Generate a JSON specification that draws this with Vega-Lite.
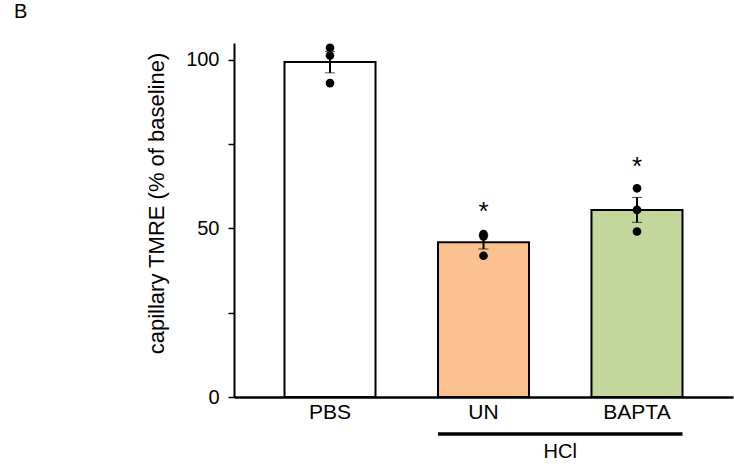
{
  "$schema": "https://vega.github.io/schema/vega-lite/v6.json",
  "autosize": "none",
  "width": 499,
  "height": 354,
  "padding": {"left": 234, "top": 43, "right": 1, "bottom": 71},
  "config": {
    "font": "Liberation Sans",
    "view": {"stroke": null},
    "axis": {"grid": false}
  },
  "title": {"text": "B", "anchor": "start", "frame": "group", "dx": -220, "offset": 5, "fontSize": 20, "fontWeight": "normal", "color": "black", "baseline": "alphabetic"},
  "datasets": {
    "points": [
      {"group": "PBS", "value": 103.6},
      {"group": "PBS", "value": 101.3},
      {"group": "PBS", "value": 93.1},
      {"group": "UN", "value": 48.3},
      {"group": "UN", "value": 47.6},
      {"group": "UN", "value": 41.9},
      {"group": "BAPTA", "value": 61.9},
      {"group": "BAPTA", "value": 55.5},
      {"group": "BAPTA", "value": 49.1}
    ],
    "stars": [
      {"group": "UN", "value": 52.5, "label": "*"},
      {"group": "BAPTA", "value": 65.9, "label": "*"}
    ],
    "bracket": [
      {"from": "UN", "to": "BAPTA", "value": -11, "label": "HCl"}
    ]
  },
  "layer": [
    {
      "data": {"name": "points"},
      "mark": {"type": "bar", "stroke": "black", "strokeWidth": 2},
      "encoding": {
        "x": {
          "field": "group", "type": "nominal",
          "scale": {"domain": ["PBS", "UN", "BAPTA"], "paddingInner": 0.407, "paddingOuter": 0.329},
          "axis": {"title": null, "ticks": false, "labelAngle": 0, "labelFontSize": 21, "labelPadding": 4, "labelColor": "black", "domainColor": "black", "domainWidth": 2.5}
        },
        "y": {
          "aggregate": "mean", "field": "value", "type": "quantitative",
          "title": "capillary TMRE (% of baseline)",
          "scale": {"domain": [0, 105], "nice": false, "zero": true},
          "axis": {
            "titleFontSize": 22, "titleFontWeight": "normal", "titleColor": "black", "titlePadding": 17, "titleY": 160,
            "values": [0, 25, 50, 75, 100],
            "labelExpr": "datum.value % 50 === 0 ? datum.label : ''",
            "labelFontSize": 20, "labelColor": "black", "labelPadding": 9,
            "tickSize": 6, "tickColor": "black", "tickWidth": 1.5,
            "domainColor": "black", "domainWidth": 2
          }
        },
        "fill": {
          "field": "group", "type": "nominal",
          "scale": {"domain": ["PBS", "UN", "BAPTA"], "range": ["#FFFFFF", "#FAC090", "#C3D69B"]},
          "legend": null
        }
      }
    },
    {
      "data": {"name": "points"},
      "mark": {"type": "errorbar", "extent": "stderr", "color": "black", "ticks": {"size": 10, "strokeWidth": 2, "color": "black"}, "rule": {"strokeWidth": 2, "color": "black"}},
      "encoding": {
        "x": {"field": "group", "type": "nominal"},
        "y": {"field": "value", "type": "quantitative", "title": "capillary TMRE (% of baseline)"}
      }
    },
    {
      "data": {"name": "points"},
      "mark": {"type": "circle", "size": 75, "color": "black", "opacity": 1},
      "encoding": {
        "x": {"field": "group", "type": "nominal"},
        "y": {"field": "value", "type": "quantitative", "title": "capillary TMRE (% of baseline)"}
      }
    },
    {
      "data": {"name": "stars"},
      "mark": {"type": "text", "fontSize": 26, "color": "black", "baseline": "alphabetic", "align": "center"},
      "encoding": {
        "x": {"field": "group", "type": "nominal"},
        "y": {"field": "value", "type": "quantitative", "title": "capillary TMRE (% of baseline)"},
        "text": {"field": "label"}
      }
    },
    {
      "data": {"name": "bracket"},
      "mark": {"type": "rule", "color": "black", "strokeWidth": 3.5},
      "encoding": {
        "x": {"field": "from", "type": "nominal", "bandPosition": 0},
        "x2": {"field": "to", "bandPosition": 1},
        "y": {"field": "value", "type": "quantitative", "title": "capillary TMRE (% of baseline)"}
      }
    },
    {
      "data": {"name": "bracket"},
      "mark": {"type": "text", "fontSize": 20, "color": "black", "baseline": "top", "align": "center", "dy": 8},
      "encoding": {
        "x": {"field": "from", "type": "nominal", "bandPosition": 1.343},
        "y": {"field": "value", "type": "quantitative", "title": "capillary TMRE (% of baseline)"},
        "text": {"field": "label"}
      }
    }
  ]
}
